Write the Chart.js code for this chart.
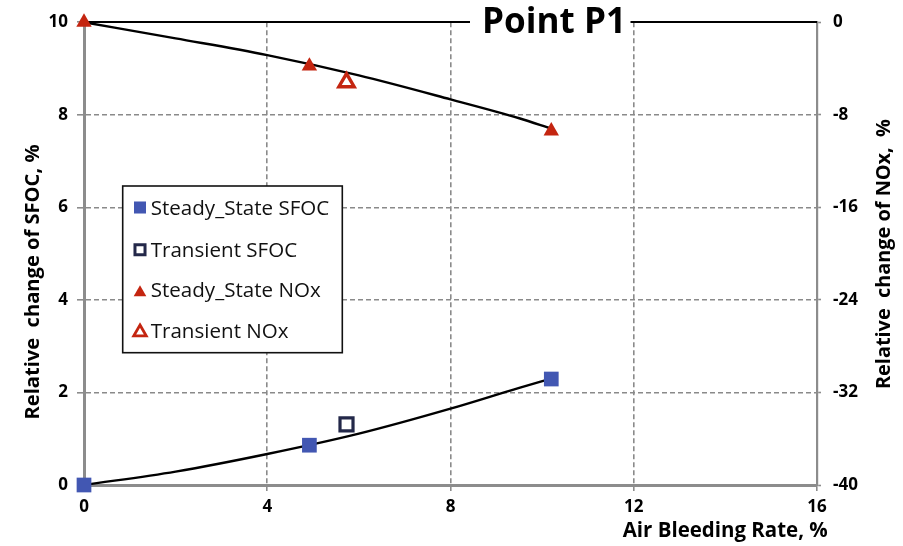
<!DOCTYPE html>
<html>
<head>
<meta charset="utf-8">
<title>Point P1</title>
<script src="https://cdn.jsdelivr.net/npm/chart.js@4.4.1/dist/chart.umd.min.js"></script>
<style>
  html, body { margin: 0; padding: 0; background: #ffffff; }
  #wrap { width: 903px; height: 546px; position: relative; }
</style>
</head>
<body>
<div id="wrap"><canvas id="chart" width="903" height="546"></canvas></div>
<script>
// Air bleeding rate (%) at each measured point
const bleedSteady = [0, 4.92, 10.2];
const bleedTransient = [5.73];

// Relative change of SFOC (%)
const sfocSteady = [0, 0.86, 2.29];
const sfocTransient = [1.31];

// Relative change of NOx (%)
const noxSteady = [0, -3.8, -9.4];
const noxTransient = [-5.2];

// Trend curves
const trendBleed = [0, 2, 4, 6, 8, 9.5, 10.2];
const sfocTrend = [0, 0.29, 0.67, 1.11, 1.65, 2.1, 2.3];
const noxTrend = [0, -1.4, -2.84, -4.6, -6.67, -8.3, -9.2];

// Axis ticks
const xTicks = [0, 4, 8, 12, 16];
const sfocTicks = [0, 2, 4, 6, 8, 10];
const noxTicks = [-40, -32, -24, -16, -8, 0];

const legendLabels = ['Steady_State SFOC', 'Transient SFOC', 'Steady_State NOx', 'Transient NOx'];
const chartTitle = 'Point P1';
const xTitle = 'Air Bleeding Rate, %';
const yTitle = 'Relative  change of SFOC, %';
const y1Title = 'Relative  change of NOx,  %';

const FONT = "'Open Sans', 'DejaVu Sans', sans-serif";
const BLUE = '#4257b2';
const NAVY = '#232849';
const RED = '#c42510';
const AXIS_GREY = '#8c8c8c';
const GRID_GREY = '#8a8a8a';

const pts = (xs, ys) => xs.map((x, i) => ({ x, y: ys[i] }));

// draw text squeezed/stretched horizontally to a given width
function fitText(ctx, text, x, y, width, align, rotate) {
  const w = ctx.measureText(text).width;
  const s = width / w;
  ctx.save();
  ctx.translate(x, y);
  if (rotate) ctx.rotate(rotate);
  ctx.scale(s, 1);
  ctx.textAlign = align;
  ctx.fillText(text, 0, 0);
  ctx.restore();
  return s;
}

const decorPlugin = {
  id: 'decor',
  beforeDatasetsDraw(chart) {
    const { ctx, chartArea } = chart;
    // black frame line along the top of the plot
    ctx.save();
    ctx.strokeStyle = '#000';
    ctx.lineWidth = 2;
    ctx.beginPath();
    ctx.moveTo(chartArea.left, chartArea.top - 0.3);
    ctx.lineTo(chartArea.right, chartArea.top - 0.3);
    ctx.stroke();

    // legend box
    const bx = 122.7, by = 186, bw = 219.6, bh = 166.7;
    ctx.fillStyle = '#fff';
    ctx.fillRect(bx, by, bw, bh);
    ctx.strokeStyle = '#111';
    ctx.lineWidth = 1.6;
    ctx.strokeRect(bx, by, bw, bh);

    const ds = chart.data.datasets;
    const markers = [
      { d: ds[2], y: 207.5, r: 8.5, bw: 0 },
      { d: ds[3], y: 249.7, r: 7.1, bw: 3 },
      { d: ds[4], y: 292.6, r: 7.3, bw: 0 },
      { d: ds[5], y: 332.2, r: 7.2, bw: 2.8 }
    ];
    markers.forEach(m => {
      ctx.save();
      ctx.fillStyle = m.d.backgroundColor;
      ctx.strokeStyle = m.d.borderColor;
      ctx.lineWidth = m.bw;
      Chart.helpers.drawPoint(ctx, { pointStyle: m.d.pointStyle, radius: m.r, borderWidth: m.bw, rotation: 0 }, 140, m.y);
      ctx.restore();
    });

    ctx.fillStyle = '#111';
    ctx.font = `400 20.5px ${FONT}`;
    ctx.textBaseline = 'alphabetic';
    const baseW = ctx.measureText(legendLabels[0]).width;
    const s = 178.6 / baseW;
    const baselines = [215, 256.7, 296.7, 338.3];
    legendLabels.forEach((t, i) => {
      ctx.save();
      ctx.translate(150.7, baselines[i]);
      ctx.scale(s, 1);
      ctx.textAlign = 'left';
      ctx.fillText(t, 0, 0);
      ctx.restore();
    });
    ctx.restore();
  },
  afterDraw(chart) {
    const { ctx } = chart;
    ctx.save();
    // title sitting on the top frame line
    ctx.fillStyle = '#fff';
    ctx.fillRect(470, 13, 160.5, 14);
    ctx.fillStyle = '#000';
    ctx.font = `700 36px ${FONT}`;
    ctx.textBaseline = 'alphabetic';
    fitText(ctx, chartTitle, 554, 33.3, 144, 'center');

    // axis titles
    ctx.font = `700 20.5px ${FONT}`;
    fitText(ctx, xTitle, 827.7, 536.7, 205, 'right');
    ctx.font = `700 20px ${FONT}`;
    fitText(ctx, yTitle, 39.3, 282, 275, 'center', -Math.PI / 2);
    fitText(ctx, y1Title, 890, 254, 270, 'center', -Math.PI / 2);
    ctx.restore();
  }
};

const edgeTransparent = (lo, hi) => (c) =>
  (c.tick && (c.tick.value === lo || c.tick.value === hi)) ? 'rgba(0,0,0,0)' : GRID_GREY;

const tickFont = { family: FONT, size: 17, weight: 'bold' };

new Chart(document.getElementById('chart'), {
  type: 'scatter',
  data: {
    datasets: [
      {
        label: 'SFOC trend',
        data: pts(trendBleed, sfocTrend),
        showLine: true, pointRadius: 0, borderColor: '#000', borderWidth: 2.4,
        cubicInterpolationMode: 'monotone', yAxisID: 'y', order: 5, clip: false
      },
      {
        label: 'NOx trend',
        data: pts(trendBleed, noxTrend),
        showLine: true, pointRadius: 0, borderColor: '#000', borderWidth: 2.4,
        cubicInterpolationMode: 'monotone', yAxisID: 'y1', order: 5, clip: false
      },
      {
        label: legendLabels[0],
        data: pts(bleedSteady, sfocSteady),
        pointStyle: 'rect', pointRadius: 10.4, pointBorderWidth: 0,
        backgroundColor: BLUE, borderColor: BLUE, yAxisID: 'y', order: 1, clip: false
      },
      {
        label: legendLabels[1],
        data: pts(bleedTransient, sfocTransient),
        pointStyle: 'rect', pointRadius: 9.2, pointBorderWidth: 3.2,
        backgroundColor: '#fff', borderColor: NAVY, yAxisID: 'y', order: 1, clip: false
      },
      {
        label: legendLabels[2],
        data: pts(bleedSteady, noxSteady),
        pointStyle: 'triangle', pointRadius: 8.9, pointBorderWidth: 0,
        backgroundColor: RED, borderColor: RED, yAxisID: 'y1', order: 1, clip: false
      },
      {
        label: legendLabels[3],
        data: pts(bleedTransient, noxTransient),
        pointStyle: 'triangle', pointRadius: 8.8, pointBorderWidth: 3.4,
        backgroundColor: '#fff', borderColor: RED, yAxisID: 'y1', order: 1, clip: false
      }
    ]
  },
  options: {
    responsive: false,
    devicePixelRatio: 1,
    animation: false,
    layout: { padding: { top: 20, left: 0, right: 0, bottom: 0 } },
    plugins: {
      legend: { display: false },
      tooltip: { enabled: false },
      title: { display: false }
    },
    scales: {
      x: {
        type: 'linear', min: 0, max: 16,
        afterBuildTicks: (s) => { s.ticks = xTicks.map(v => ({ value: v })); },
        afterFit: (s) => { s.height = 61; },
        ticks: { font: tickFont, color: '#000', padding: 6, maxRotation: 0 },
        grid: { color: edgeTransparent(0, 16), lineWidth: 1.6, tickLength: 6, tickColor: AXIS_GREY, tickWidth: 1.6 },
        border: { display: true, color: AXIS_GREY, width: 3, dash: [5, 3] }
      },
      y: {
        type: 'linear', position: 'left', min: 0, max: 10,
        afterBuildTicks: (s) => { s.ticks = sfocTicks.map(v => ({ value: v })); },
        afterFit: (s) => { s.width = 84; },
        ticks: { font: tickFont, color: '#000', padding: 9 },
        grid: { color: edgeTransparent(0, 10), lineWidth: 1.6, tickLength: 7, tickColor: AXIS_GREY, tickWidth: 1.6 },
        border: { display: true, color: AXIS_GREY, width: 3, dash: [5, 3] }
      },
      y1: {
        type: 'linear', position: 'right', min: -40, max: 0,
        afterBuildTicks: (s) => { s.ticks = noxTicks.map(v => ({ value: v })); },
        afterFit: (s) => { s.width = 86; },
        ticks: { font: tickFont, color: '#000', padding: 12 },
        grid: { drawOnChartArea: false, tickLength: 4, tickColor: AXIS_GREY, tickWidth: 1.6 },
        border: { display: true, color: AXIS_GREY, width: 2.2 }
      }
    }
  },
  plugins: [decorPlugin]
});
</script>
</body>
</html>
